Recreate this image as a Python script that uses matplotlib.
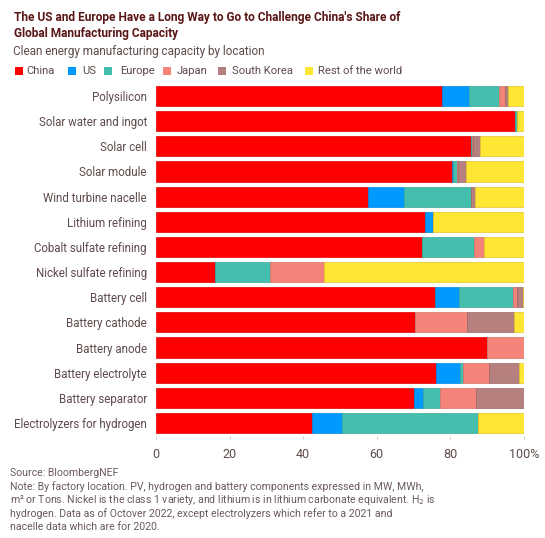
import matplotlib
matplotlib.use("Agg")
import matplotlib.pyplot as plt
from matplotlib.patches import Rectangle
import numpy as np

categories = [
    "Polysilicon",
    "Solar water and ingot",
    "Solar cell",
    "Solar module",
    "Wind turbine nacelle",
    "Lithium refining",
    "Cobalt sulfate refining",
    "Nickel sulfate refining",
    "Battery cell",
    "Battery cathode",
    "Battery anode",
    "Battery electrolyte",
    "Battery separator",
    "Electrolyzers for hydrogen",
]

series_names = ["China", "US", "Europe", "Japan", "South Korea", "Rest of the world"]

china = [77.8, 97.6, 85.6, 80.3, 57.7, 73.1, 72.2, 16.1, 75.8, 70.4, 89.9, 76.1, 70.0, 42.3]
us = [7.3, 0.0, 0.0, 0.5, 9.7, 2.1, 0.0, 0.0, 6.6, 0.0, 0.0, 6.5, 2.6, 8.2]
europe = [8.1, 0.4, 0.4, 0.9, 18.2, 0.0, 14.3, 14.9, 14.5, 0.0, 0.0, 0.9, 4.6, 37.1]
japan = [1.6, 0.0, 0.2, 0.5, 0.0, 0.0, 2.5, 14.7, 1.3, 14.0, 10.1, 7.1, 9.7, 0.0]
south_korea = [0.9, 0.0, 1.8, 2.0, 1.1, 0.0, 0.0, 0.0, 1.4, 13.0, 0.0, 8.0, 13.1, 0.0]
rest_of_world = [4.3, 2.0, 12.0, 15.8, 13.3, 24.8, 11.0, 54.3, 0.4, 2.6, 0.0, 1.4, 0.0, 12.4]

x_ticks = [0, 20, 40, 60, 80, 100]
x_tick_labels = ["0", "20", "40", "60", "80", "100%"]

colors = ["#ff0000", "#0099ff", "#44bfad", "#f4847a", "#b5807d", "#ffe633"]
edge_colors = ["#e00000", "#0088e0", "#3aa898", "#d87068", "#9a6664", "#e0c62a"]

TITLE_COLOR = "#5a1616"
TEXT_COLOR = "#5e4a4a"
FOOT_COLOR = "#6a5a5a"
FONT = ["Roboto", "DejaVu Sans"]

W, H = 545, 538
fig = plt.figure(figsize=(W / 100, H / 100), dpi=100)
fig.patch.set_facecolor("white")


def fx(px):
    return px / W


def fy(py):
    return 1 - py / H


ax = fig.add_axes([fx(156), fy(435.6), fx(524) - fx(156), (435.6 - 83.4) / H])

values = [china, us, europe, japan, south_korea, rest_of_world]
y = np.arange(len(categories))
left = np.zeros(len(categories))
for vals, c, ec in zip(values, colors, edge_colors):
    v = np.array(vals)
    ax.barh(y, v, left=left, height=0.8, color=c, edgecolor=ec, linewidth=0.5)
    left += v

ax.set_ylim(len(categories) - 0.5, -0.5)
ax.set_xlim(0, 100)
ax.set_yticks(y)
ax.set_yticklabels(categories, fontsize=8.3, color=TEXT_COLOR, family=FONT)
ax.set_xticks(x_ticks)
ax.set_xticklabels(x_tick_labels, fontsize=9.0, color=TEXT_COLOR, family=FONT)
ax.tick_params(axis="y", length=0, pad=6.5)
ax.tick_params(axis="x", length=2.5, width=0.6, color="#c8c8c8", pad=6.5)
for s in ax.spines.values():
    s.set_visible(False)

# Title and subtitle
fig.text(fx(14), fy(17), "The US and Europe Have a Long Way to Go to Challenge China's Share of",
         fontsize=8.6, fontweight="bold", color=TITLE_COLOR, family=FONT, va="center", ha="left")
fig.text(fx(14), fy(34), "Global Manufacturing Capacity",
         fontsize=8.6, fontweight="bold", color=TITLE_COLOR, family=FONT, va="center", ha="left")
fig.text(fx(13), fy(52), "Clean energy manufacturing capacity by location",
         fontsize=8.45, color=TEXT_COLOR, family=FONT, va="center", ha="left")

# Legend row
legend_x = [(15, 26), (68, 82), (104, 120), (163, 177), (218, 232), (305, 318)]
for (sx, tx), name, c in zip(legend_x, series_names, colors):
    fig.patches.append(Rectangle((fx(sx), fy(75)), fx(8), 8 / H, transform=fig.transFigure,
                                 facecolor=c, edgecolor="none"))
    fig.text(fx(tx), fy(71), name, fontsize=8.1, color=TEXT_COLOR, family=FONT,
             va="center", ha="left")

# Footer
footer = [
    "Source: BloombergNEF",
    "Note: By factory location. PV, hydrogen and battery components expressed in MW, MWh,",
    "m\u00b2 or Tons. Nickel is the class 1 variety, and lithium is in lithium carbonate equivalent. H$_2$ is",
    "hydrogen. Data as of Octover 2022, except electrolyzers which refer to a 2021 and",
    "nacelle data which are for 2020.",
]
for i, line in enumerate(footer):
    fig.text(fx(10), fy(473 + 13.5 * i), line, fontsize=7.6, color=FOOT_COLOR, family=FONT,
             va="center", ha="left")

fig.savefig("out.png", dpi=100, facecolor="white")
